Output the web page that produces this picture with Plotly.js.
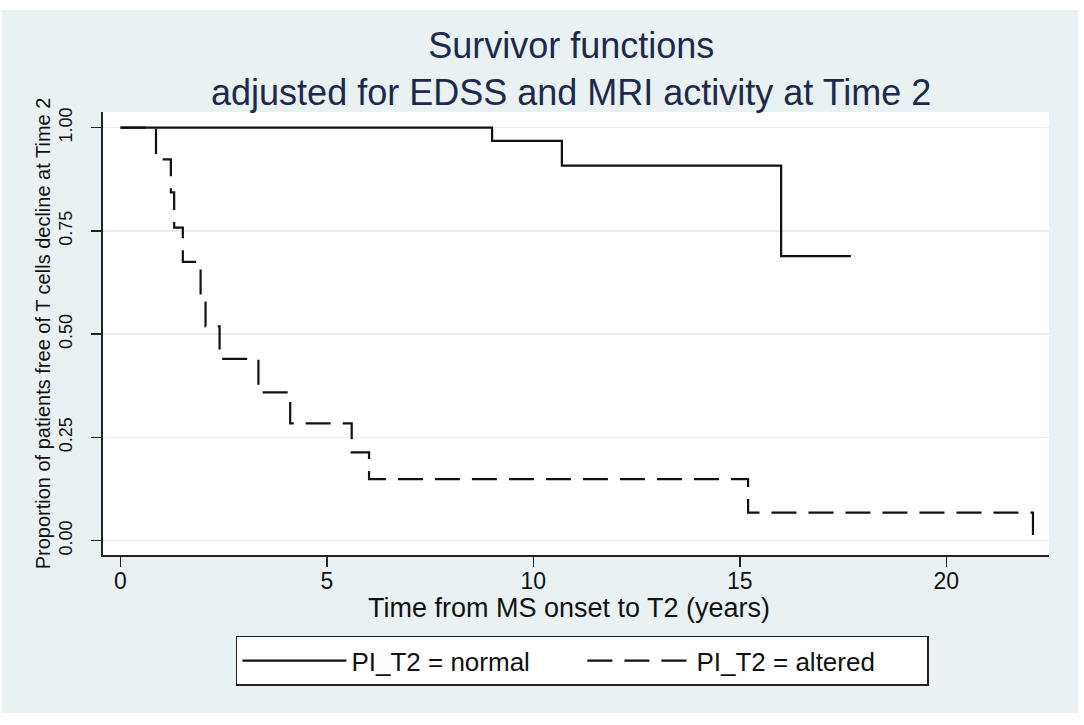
<!DOCTYPE html>
<html>
<head>
<meta charset="utf-8">
<script src="https://cdn.plot.ly/plotly-3.0.1.min.js"></script>
<style>
  html, body { margin: 0; padding: 0; background: #ffffff; }
  #chart { position: absolute; left: 2px; top: 10px; width: 1076px; height: 703px; }
</style>
</head>
<body>
<div id="chart"></div>
<script>
// Survivor function: PI_T2 = normal
var normalTime = [0, 9.0, 10.69, 16.0, 17.69];
var normalSurv = [1.0, 0.968, 0.908, 0.689, 0.689];

// Survivor function: PI_T2 = altered
var alteredTime = [0, 0.86, 1.22, 1.30, 1.51, 1.94, 2.06, 2.40, 3.34, 4.11, 5.60, 6.02, 15.20, 22.1];
var alteredSurv = [1.0, 0.923, 0.843, 0.758, 0.675, 0.592, 0.519, 0.440, 0.359, 0.284, 0.214, 0.149, 0.068, 0.0];

var seriesNames = ['PI_T2 = normal', 'PI_T2 = altered'];
var xTicks = [0, 5, 10, 15, 20];
var yTicks = [0, 0.25, 0.5, 0.75, 1];
var yTickLabels = ['0.00', '0.25', '0.50', '0.75', '1.00'];
var xTitle = 'Time from MS onset to T2 (years)';
var yTitle = 'Proportion of patients free of T cells decline at Time 2';

var FONT = 'Liberation Sans, Arial, Helvetica, sans-serif';

var traces = [
  {
    x: normalTime, y: normalSurv, name: seriesNames[0],
    type: 'scatter', mode: 'lines',
    line: {shape: 'hv', color: '#111111', width: 2.2}
  },
  {
    x: alteredTime, y: alteredSurv, name: seriesNames[1],
    type: 'scatter', mode: 'lines',
    line: {shape: 'hv', color: '#111111', width: 2.2, dash: '25px,12px'}
  }
];

var layout = {
  width: 1076, height: 703,
  paper_bgcolor: '#eaf1f3',
  plot_bgcolor: '#ffffff',
  margin: {l: 101, r: 29, t: 102, b: 158, pad: 0},
  font: {family: FONT, color: '#111111'},
  title: {
    text: 'Survivor functions<br>adjusted for EDSS and MRI activity at Time 2',
    font: {family: FONT, size: 36, color: '#1c2a4d'},
    x: 0.529, xanchor: 'center',
    y: 0.932, yref: 'container', yanchor: 'middle'
  },
  xaxis: {
    range: [-0.4236, 22.488],
    tickvals: xTicks,
    ticktext: xTicks.map(String),
    ticks: 'outside', ticklen: 10, tickwidth: 1.5, tickcolor: '#222222',
    tickfont: {family: FONT, size: 23, color: '#111111'},
    ticklabelstandoff: -6,
    showline: true, linecolor: '#222222', linewidth: 2,
    showgrid: false, zeroline: false
  },
  yaxis: {
    range: [-0.0346, 1.0377],
    tickvals: yTicks,
    ticktext: yTickLabels,
    tickangle: -90,
    ticks: 'outside', ticklen: 10, tickwidth: 1.5, tickcolor: '#222222',
    tickfont: {family: FONT, size: 18, color: '#111111'},
    ticklabelstandoff: 12,
    showline: true, linecolor: '#222222', linewidth: 2,
    showgrid: true, gridcolor: '#e6eef0', gridwidth: 1.5,
    zeroline: false,
    title: {text: yTitle, font: {family: FONT, size: 20, color: '#111111'}, standoff: 0}
  },
  annotations: [
    {
      text: xTitle, showarrow: false,
      xref: 'paper', yref: 'paper',
      x: 0.4926, xanchor: 'center',
      y: -0.1195, yanchor: 'middle',
      font: {family: FONT, size: 27, color: '#111111'}
    }
  ],
  showlegend: true,
  legend: {
    orientation: 'h',
    x: 0.1405, xanchor: 'left',
    y: -0.182, yanchor: 'top',
    bgcolor: '#ffffff', bordercolor: '#222222', borderwidth: 1.5,
    font: {family: FONT, size: 26, color: '#111111'},
    itemwidth: 104,
    entrywidth: 226, entrywidthmode: 'pixels',
    traceorder: 'normal'
  }
};

Plotly.newPlot('chart', traces, layout, {displayModeBar: false, staticPlot: true});
</script>
</body>
</html>
